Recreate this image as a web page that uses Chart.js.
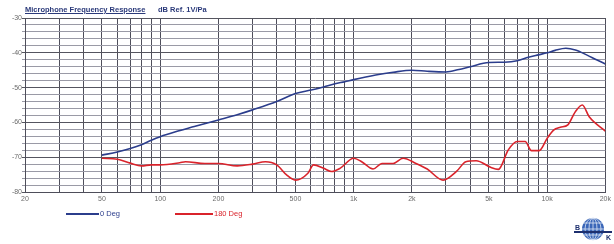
<!DOCTYPE html>
<html>
<head>
<meta charset="utf-8">
<script src="https://cdn.jsdelivr.net/npm/chart.js@4/dist/chart.umd.min.js"></script>
<style>
  html, body { margin: 0; padding: 0; background: #fff; }
  #wrap { position: relative; width: 614px; height: 244px; overflow: hidden; }
  #c { position: absolute; left: 0; top: 0; }
  .t { position: absolute; font-family: "Liberation Sans", Arial, sans-serif; font-weight: bold; font-size: 7.5px; color: #2b3a7a; white-space: nowrap; }
  .lg { position: absolute; font-family: "Liberation Sans", Arial, sans-serif; font-size: 7.5px; white-space: nowrap; }
  .ln { position: absolute; height: 2px; }
</style>
</head>
<body>
<div id="wrap">
  <canvas id="c" width="614" height="244"></canvas>
  <div class="t" style="left:25px; top:5px; text-decoration: underline;">Microphone Frequency Response</div>
  <div class="t" style="left:158px; top:5px;">dB Ref. 1V/Pa</div>
  <div class="ln" style="left:66px; top:213px; width:33px; background:#2b3d8c;"></div>
  <div class="lg" style="left:100px; top:209px; color:#2b3d8c;">0 Deg</div>
  <div class="ln" style="left:175px; top:213px; width:38px; background:#d9232b;"></div>
  <div class="lg" style="left:214px; top:209px; color:#d9232b;">180 Deg</div>
  <svg style="position:absolute; left:572px; top:216px;" width="42" height="28" viewBox="0 0 42 28">
    <circle cx="21" cy="13" r="11" fill="#3a66b8"/>
    <g stroke="#dfe8f6" stroke-width="0.8" fill="none">
      <ellipse cx="21" cy="13" rx="4" ry="11"/>
      <ellipse cx="21" cy="13" rx="8" ry="11"/>
      <line x1="21" y1="2" x2="21" y2="24"/>
      <line x1="11" y1="7" x2="31" y2="7"/>
      <line x1="10" y1="13" x2="32" y2="13"/>
      <line x1="11" y1="19" x2="31" y2="19"/>
    </g>
    <rect x="2" y="15" width="38" height="2" fill="#1d2f6e"/>
    <text x="3" y="14" font-family="Liberation Sans, Arial" font-weight="bold" font-size="7" fill="#1d2f6e">B</text>
    <text x="34" y="24" font-family="Liberation Sans, Arial" font-weight="bold" font-size="7" fill="#1d2f6e">K</text>
  </svg>
</div>
<script>
const freq0 = [50,60,70,80,90,100,120,150,200,250,300,400,500,600,700,800,900,1000,1300,1600,2000,2400,3000,3500,4000,5000,6000,7000,8000,9000,10000,11000,12500,14000,16000,18000,20000];
const db0 = [-69.4,-68.5,-67.5,-66.4,-65.1,-64.1,-62.7,-61.2,-59.3,-57.8,-56.4,-54.0,-51.7,-50.7,-49.8,-48.9,-48.3,-47.7,-46.4,-45.6,-45.0,-45.3,-45.5,-44.8,-44.0,-42.8,-42.7,-42.3,-41.3,-40.6,-40.0,-39.3,-38.7,-39.2,-40.6,-42.0,-43.2];

const freq180 = [50,60,70,80,90,100,126,135,170,200,250,300,350,400,450,500,580,620,700,770,850,1000,1100,1260,1400,1600,1800,2100,2400,2900,3400,3800,4300,5100,5600,6300,7000,7700,8300,9100,10000,10800,11700,12800,14000,15200,16500,20000];
const db180 = [-70.3,-70.6,-71.7,-72.5,-72.2,-72.2,-71.6,-71.3,-71.8,-71.8,-72.5,-72.0,-71.3,-72.2,-75.1,-76.6,-74.6,-72.2,-73.2,-74.1,-73.2,-70.3,-71.3,-73.4,-71.8,-71.8,-70.3,-71.8,-73.4,-76.6,-74.1,-71.3,-71.0,-72.9,-73.5,-67.9,-65.5,-65.5,-68.1,-68.1,-64.6,-62.2,-61.4,-60.7,-56.9,-55.0,-58.4,-62.5];

const gridFreqs = [20,30,40,50,60,70,80,90,100,200,300,400,500,600,700,800,900,1000,2000,3000,4000,5000,6000,7000,8000,9000,10000,20000];
const xTickLabels = {20:'20',50:'50',100:'100',200:'200',500:'500',1000:'1k',2000:'2k',5000:'5k',10000:'10k',20000:'20k'};
const seriesNames = ['0 Deg','180 Deg'];

const toPts = (f, d) => f.map((v, i) => ({x: v, y: d[i]}));

new Chart(document.getElementById('c'), {
  type: 'line',
  data: {
    datasets: [
      { label: seriesNames[0], data: toPts(freq0, db0), borderColor: '#2b3d8c', backgroundColor: '#2b3d8c', borderWidth: 1.6, pointRadius: 0, cubicInterpolationMode: 'monotone' },
      { label: seriesNames[1], data: toPts(freq180, db180), borderColor: '#d9232b', backgroundColor: '#d9232b', borderWidth: 1.6, pointRadius: 0, cubicInterpolationMode: 'monotone' }
    ]
  },
  options: {
    responsive: false,
    animation: false,
    layout: { padding: { top: 18, right: 2, left: 0, bottom: 0 } },
    plugins: { legend: { display: false }, tooltip: { enabled: false } },
    scales: {
      x: {
        type: 'logarithmic', min: 20, max: 20000,
        afterBuildTicks: s => { s.ticks = gridFreqs.map(v => ({value: v})); },
        afterFit: s => { s.height = 52; },
        grid: { color: '#4e4e5a', lineWidth: 1, drawTicks: false },
        border: { color: '#4e4e5a' },
        ticks: {
          autoSkip: false, maxRotation: 0, padding: 3,
          color: '#6b6b6b', font: { family: 'Liberation Sans, Arial', size: 7 },
          callback: v => xTickLabels[v] || ''
        }
      },
      y: {
        min: -80, max: -30,
        afterFit: s => { s.width = 25; },
        grid: {
          color: c => (c.tick && c.tick.value % 10 === 0) ? '#55555f' : '#9a9aa6',
          lineWidth: 1, drawTicks: true, tickLength: 3
        },
        border: { color: '#4e4e5a' },
        ticks: {
          stepSize: 2, padding: 0, autoSkip: false,
          color: '#6b6b6b', font: { family: 'Liberation Sans, Arial', size: 7 },
          callback: v => (v % 10 === 0) ? String(v) : ''
        }
      }
    }
  }
});
</script>
</body>
</html>
